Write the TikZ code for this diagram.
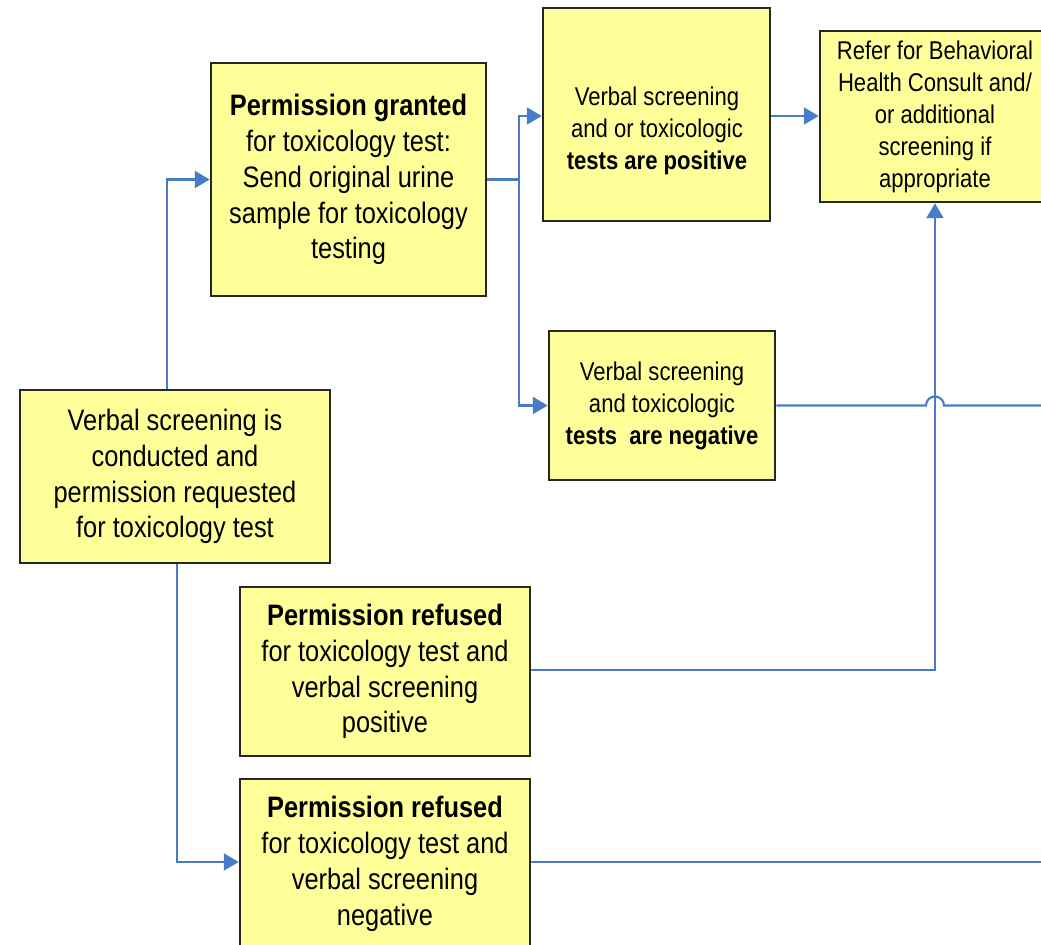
\documentclass[tikz,border=0pt]{standalone}
\usepackage{fontspec}
\setmainfont{Liberation Sans}[FakeStretch=0.86]
\usetikzlibrary{arrows.meta}
\definecolor{boxfill}{HTML}{FFFF99}
\definecolor{linkblue}{HTML}{4A7BC8}
\newcommand{\bigtxt}{\fontsize{8.4}{10.2}\selectfont}
\newcommand{\smalltxt}{\fontsize{7.3}{9.1}\selectfont}
\tikzset{
  box/.style={draw=black!85, line width=0.7pt, fill=boxfill, align=center, inner sep=0pt},
  link/.style={draw=linkblue, line width=0.6pt},
  arr/.style={link, -{Triangle[length=4.2pt, width=4.8pt]}}
}

\begin{document}
\begin{tikzpicture}[x=0.01cm, y=-0.01cm]
\useasboundingbox (0,0) rectangle (1041,945);
\node [box, minimum width=3.10cm, minimum height=1.73cm, font=\bigtxt] (start) at (175,476.5) {Verbal screening is\\conducted and\\permission requested\\for toxicology test};
\node [box, minimum width=2.75cm, minimum height=2.33cm, font=\bigtxt] (granted) at (348.5,179.5) {\textbf{Permission granted}\\for toxicology test:\\Send original urine\\sample for toxicology\\testing};
\node [box, minimum width=2.27cm, minimum height=2.13cm] (pos) at (656.5,114.5) {};
\node [font=\smalltxt, align=center, inner sep=0pt] (postxt) at (657,131) {Verbal screening\\and or toxicologic\\\textbf{tests are positive}};
\node [box, minimum width=2.50cm, minimum height=1.71cm] (refer) at (945,116.5) {};
\node [font=\smalltxt, align=center, inner sep=0pt] (refertxt) at (935,116.5) {Refer for Behavioral\\Health Consult and/\\or additional\\screening if\\appropriate};
\node [box, minimum width=2.26cm, minimum height=1.49cm, font=\smalltxt] (neg) at (662,405.5) {Verbal screening\\and toxicologic\\\textbf{tests~ are negative}};
\node [box, minimum width=2.90cm, minimum height=1.69cm, font=\bigtxt] (refpos) at (385,671.5) {\textbf{Permission refused}\\for toxicology test and\\verbal screening\\positive};
\node [box, minimum width=2.90cm, minimum height=1.70cm, font=\bigtxt] (refneg) at (385,864) {\textbf{Permission refused}\\for toxicology test and\\verbal screening\\negative};
\coordinate (rim) at (1050,0);
\draw [arr] ([xshift=-0.08cm]start.north) |- (granted.west);
\draw [link] (granted.east) -- ++(32,0) coordinate (split);
\draw [arr] (split) |- ([yshift=-0.015cm]pos.west);
\draw [arr] (split) |- (neg.west);
\draw [arr] ([yshift=-0.015cm]pos.east) -- ([yshift=-0.015cm]pos.east -| refer.west);
\draw [link] (neg.east) -- ([xshift=-0.19cm]neg.east -| refer.south) arc [start angle=180, end angle=0, radius=0.09cm] -- (neg.east -| rim);
\draw [arr] ([yshift=0.015cm]refpos.east) -| ([xshift=-0.1cm]refer.south);
\draw [arr] ([xshift=0.02cm]start.south) |- ([yshift=0.02cm]refneg.west);
\draw [link] ([yshift=0.02cm]refneg.east) -- ([yshift=0.02cm]refneg.east -| rim);
\end{tikzpicture}
\end{document}
